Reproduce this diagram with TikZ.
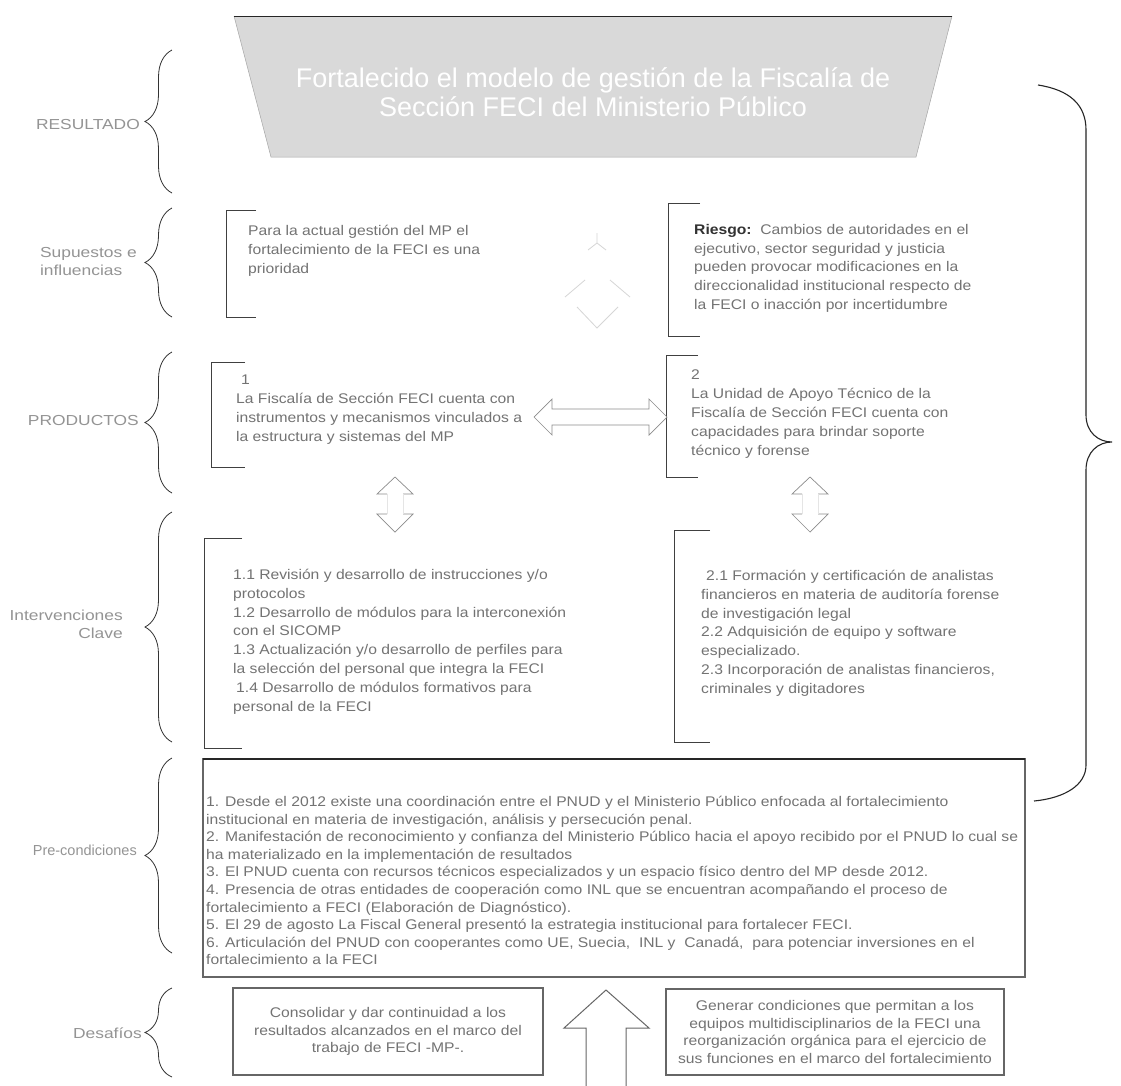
\documentclass[tikz,border=0pt]{standalone}
\usepackage{fontspec}
\setmainfont{Liberation Sans}
\newfontfamily\widefont[FakeStretch=1.12]{Liberation Sans}
\newfontfamily\labelfont[FakeStretch=1.2]{Liberation Sans}
\usetikzlibrary{decorations.pathreplacing}
\begin{document}
\begin{tikzpicture}[x=1pt, y=-1pt,
    lbl/.style={text=black!42, font=\labelfont\fontsize{14.5}{18}\selectfont, inner sep=0pt},
    curly/.style={decorate, decoration={brace, amplitude=27pt}, draw=black!80, line width=0.8pt},
    bracket/.style={draw=black!75, line width=0.9pt},
    txt/.style={text=black!55, font=\widefont\fontsize{14}{18.8}\selectfont, align=left, inner sep=0pt, anchor=north west},
    pretxt/.style={txt, font=\widefont\fontsize{14}{17.6}\selectfont},
    boxline/.style={draw=black!60, line width=1.1pt},
    reto/.style={boxline, text=black!55, font=\widefont\fontsize{14}{17.6}\selectfont, align=center, inner sep=0pt},
    hollow/.style={draw=black!45, line width=0.7pt}]
\useasboundingbox (0,0) rectangle (1121,1085);
\fill[white] (0,0) rectangle (1121,1085);
\fill[black!15] (234,16) -- (952,16) -- (916,157) -- (271,157) -- cycle;
\draw[black!35, line width=0.5pt] (952,16) -- (916,157) -- (271,157) -- (234,16);
\draw[black!85, line width=1pt] (234,16) -- (952,16);
\node[text=white, font=\fontsize{27}{29}\selectfont, align=center] (title) at (593,92) {Fortalecido el modelo de gestión de la Fiscalía de\\Sección FECI del Ministerio Público};
\node[lbl, anchor=east] (resultado) at (140,125) {RESULTADO};
\node[lbl, anchor=east, align=left] (supuestos) at (137,262) {Supuestos e\\influencias};
\node[lbl, anchor=east] (productos) at (139,420) {PRODUCTOS};
\node[lbl, anchor=east, align=right] (intervenciones) at (123,624) {Intervenciones\\Clave};
\node[lbl, anchor=east, font=\fontsize{14.5}{18}\selectfont] (precond) at (137,850) {Pre-condiciones};
\node[lbl, anchor=east] (desafios) at (142,1033) {Desafíos};
\draw[curly] (172,193) -- (172,50);
\draw[curly] (172,317) -- (172,208);
\draw[curly] (172,493) -- (172,352);
\draw[curly] (172,742) -- (172,512);
\draw[curly] (172,953) -- (172,758);
\draw[curly] (172,1077) -- (172,988);
\draw[black!85, line width=1.1pt] (1038,85) .. controls (1070,90) and (1086,105) .. (1086,130) -- (1086,415) .. controls (1086,432) and (1098,442) .. (1112,442) .. controls (1098,442) and (1086,452) .. (1086,470) -- (1086,765) .. controls (1086,785) and (1065,798) .. (1034,801);
\draw[bracket] (256,210) -| (226,317) -- (256,317);
\draw[bracket] (700,203) -| (668,336) -- (700,336);
\draw[bracket] (245,362) -| (211,467) -- (245,467);
\draw[bracket] (698,355) -| (666,477) -- (698,477);
\draw[bracket] (242,538) -| (204,748) -- (242,748);
\draw[bracket] (710,530) -| (674,742) -- (710,742);
\node[txt] (prioridad) at (248,225) {Para la actual gestión del MP el\\fortalecimiento de la FECI es una\\prioridad};
\node[txt] (riesgo) at (694,224) {{\color{black!80}\bfseries Riesgo:}\ \ Cambios de autoridades en el\\ejecutivo, sector seguridad y justicia\\pueden provocar modificaciones en la\\direccionalidad institucional respecto de\\la FECI o inacción por incertidumbre};
\draw[black!16, line width=0.8pt] (577,307) -- (597,328) -- (618,307) (565,297) -- (585,280) (610,280) -- (630,297) (588,250) -- (597,243) -- (606,250) (597,233) -- (597,243);
\node[txt] (producto1) at (236,375) {\hspace*{5pt}1\\La Fiscalía de Sección FECI cuenta con\\instrumentos y mecanismos vinculados a\\la estructura y sistemas del MP};
\node[txt] (producto2) at (691,370) {2\\La Unidad de Apoyo Técnico de la\\Fiscalía de Sección FECI cuenta con\\capacidades para brindar soporte\\técnico y forense};
\draw[hollow] (534,417) -- (552,399) -- (552,409) -- (649,409) -- (649,399) -- (667,417) -- (649,435) -- (649,425) -- (552,425) -- (552,435) -- cycle;
\foreach \ax in {395,810} {
  \draw[hollow] (\ax-8,494) -- (\ax-18,494) -- (\ax,477) -- (\ax+18,494) -- (\ax+8,494);
  \draw[hollow] (\ax-8,514) -- (\ax-18,514) -- (\ax,532) -- (\ax+18,514) -- (\ax+8,514);
  \draw[black!10, line width=0.5pt] (\ax-8,494) -- (\ax-8,514) (\ax+8,494) -- (\ax+8,514);
}
\node[txt] (interv1) at (233,569) {1.1 Revisión y desarrollo de instrucciones y/o\\protocolos\\1.2 Desarrollo de módulos para la interconexión\\con el SICOMP\\1.3 Actualización y/o desarrollo de perfiles para\\la selección del personal que integra la FECI\\\hspace*{3pt}1.4 Desarrollo de módulos formativos para\\personal de la FECI};
\node[txt] (interv2) at (701,570) {\hspace*{5pt}2.1 Formación y certificación de analistas\\financieros en materia de auditoría forense\\de investigación legal\\2.2 Adquisición de equipo y software\\especializado.\\2.3 Incorporación de analistas financieros,\\criminales y digitadores};
\draw[boxline] (203,759) rectangle (1025,977);
\draw[black!85, line width=1.8pt] (203,759) -- (1025,759);
\node[pretxt] (condiciones) at (206,796) {1. Desde el 2012 existe una coordinación entre el PNUD y el Ministerio Público enfocada al fortalecimiento\\institucional en materia de investigación, análisis y persecución penal.\\2. Manifestación de reconocimiento y confianza del Ministerio Público hacia el apoyo recibido por el PNUD lo cual se\\ha materializado en la implementación de resultados\\3. El PNUD cuenta con recursos técnicos especializados y un espacio físico dentro del MP desde 2012.\\4. Presencia de otras entidades de cooperación como INL que se encuentran acompañando el proceso de\\fortalecimiento a FECI (Elaboración de Diagnóstico).\\5. El 29 de agosto La Fiscal General presentó la estrategia institucional para fortalecer FECI.\\6. Articulación del PNUD con cooperantes como UE, Suecia,\ \ INL y\ \ Canadá,\ \ para potenciar inversiones en el\\fortalecimiento a la FECI};
\node[reto, minimum width=310, minimum height=87] (reto1) at (388,1031.5) {Consolidar y dar continuidad a los\\resultados alcanzados en el marco del\\trabajo de FECI -MP-.};
\node[reto, minimum width=338, minimum height=86] (reto2) at (835,1032) {Generar condiciones que permitan a los\\equipos multidisciplinarios de la FECI una\\reorganización orgánica para el ejercicio de\\sus funciones en el marco del fortalecimiento};
\draw[draw=black!60, line width=1pt] (586,1090) -- (586,1028) -- (564,1028) -- (606,990) -- (649,1028) -- (626,1028) -- (626,1090);
\end{tikzpicture}
\end{document}
